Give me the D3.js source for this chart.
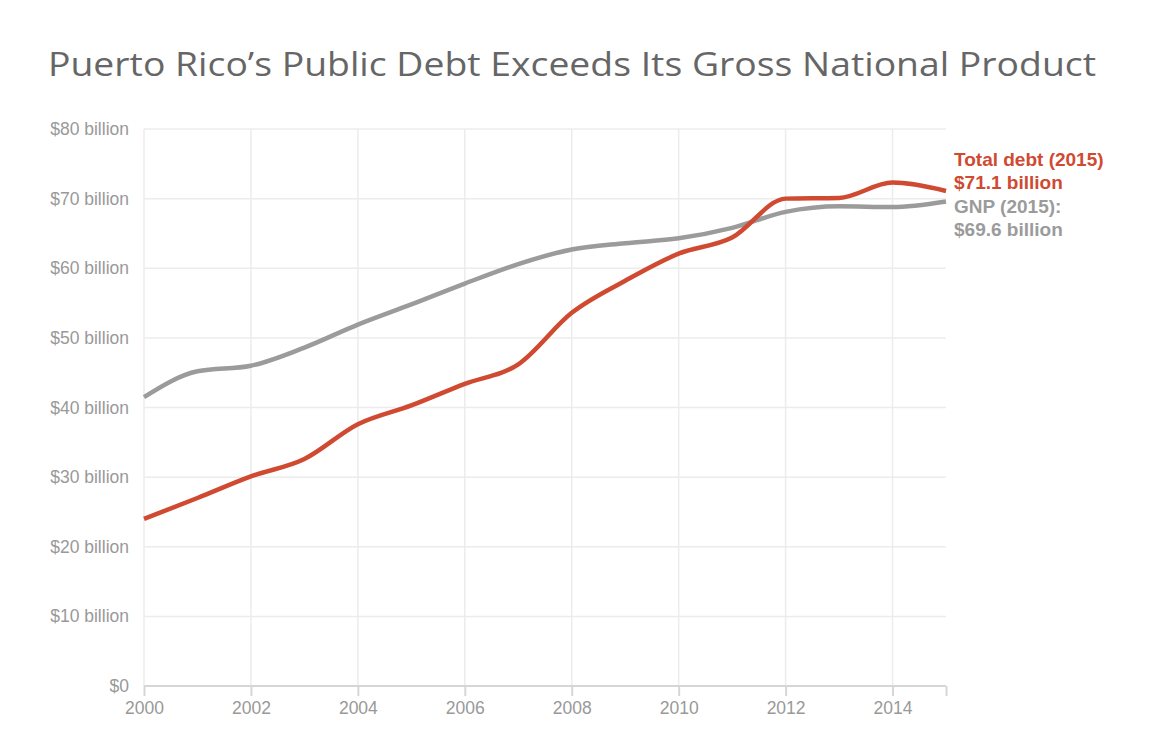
<!DOCTYPE html>
<html><head><meta charset="utf-8">
<script src="https://cdn.jsdelivr.net/npm/d3@7"></script>
<style>body{margin:0;background:#fff}svg{display:block}</style>
</head><body>
<svg id="c" width="1173" height="750"></svg>
<script>
const years = [2000,2001,2002,2003,2004,2005,2006,2007,2008,2009,2010,2011,2012,2013,2014,2015];
const debt = [24.0,27.0,30.1,32.6,37.6,40.3,43.4,46.2,53.6,58.2,62.1,64.4,70.0,70.1,72.3,71.1];
const gnp  = [41.5,45.2,46.0,48.6,51.9,54.8,57.8,60.6,62.7,63.6,64.3,65.8,68.1,68.9,68.8,69.6];
const yTicks = [0,10,20,30,40,50,60,70,80];
const xTicks = [2000,2002,2004,2006,2008,2010,2012,2014];
const title = "Puerto Rico’s Public Debt Exceeds Its Gross National Product";
const debtLabel = ["Total debt (2015)","$71.1 billion"];
const gnpLabel = ["GNP (2015):","$69.6 billion"];

const svg = d3.select("#c");
const m = {left:144, right:946, top:129, bottom:686};
const x = d3.scaleLinear().domain([2000,2015]).range([m.left,m.right]);
const y = d3.scaleLinear().domain([0,80]).range([m.bottom,m.top]);

svg.append("text").attr("x",48).attr("y",76)
  .attr("font-family","'Open Sans', Lato, sans-serif").attr("font-size",32.5)
  .attr("fill","#666").attr("textLength",1048).attr("lengthAdjust","spacingAndGlyphs")
  .text(title);

// grid
svg.append("g").selectAll("line").data(yTicks.filter(d=>d>0)).join("line")
  .attr("x1",m.left).attr("x2",m.right).attr("y1",d=>y(d)).attr("y2",d=>y(d))
  .attr("stroke","#ececec").attr("stroke-width",1.5);
svg.append("g").selectAll("line").data(xTicks).join("line")
  .attr("x1",d=>x(d)).attr("x2",d=>x(d)).attr("y1",m.top).attr("y2",m.bottom)
  .attr("stroke","#ececec").attr("stroke-width",1.5);

// y axis labels
const yAxis = d3.axisLeft(y).tickValues(yTicks).tickSize(0).tickPadding(15)
  .tickFormat(d=> d===0 ? "$0" : "$"+d+" billion");
const gy = svg.append("g").attr("transform",`translate(${m.left},0)`).call(yAxis);
gy.select(".domain").remove();
gy.selectAll("text").attr("font-family","Liberation Sans, Arial, sans-serif")
  .attr("font-size",17.5).attr("fill","#999");

// x axis
const xAxis = d3.axisBottom(x).tickValues(xTicks.concat([2015])).tickSize(10).tickPadding(6)
  .tickFormat(d=> d===2015 ? "" : d);
const gx = svg.append("g").attr("transform",`translate(0,${m.bottom})`).call(xAxis);
gx.select(".domain").attr("stroke","#d6d6d6").attr("stroke-width",2).attr("d",`M${m.left},0H${m.right}`);
gx.selectAll(".tick line").attr("stroke","#d6d6d6").attr("stroke-width",2);
gx.selectAll("text").attr("font-family","Liberation Sans, Arial, sans-serif")
  .attr("font-size",17.5).attr("fill","#999");

const line = d3.line().x((d,i)=>x(years[i])).y(d=>y(d)).curve(d3.curveMonotoneX);
svg.append("path").attr("d",line(gnp)).attr("fill","none").attr("stroke","#9b9b9b").attr("stroke-width",4.5);
svg.append("path").attr("d",line(debt)).attr("fill","none").attr("stroke","#cf4a31").attr("stroke-width",4.5);

const lab = svg.append("g").attr("font-family","Liberation Sans, Arial, sans-serif")
  .attr("font-size",19).attr("font-weight","bold");
lab.selectAll("text.d").data(debtLabel).join("text").attr("class","d")
  .attr("x",954).attr("y",(d,i)=>166+i*23.3).attr("fill","#cf4a31").text(d=>d);
lab.selectAll("text.g").data(gnpLabel).join("text").attr("class","g")
  .attr("x",954).attr("y",(d,i)=>212.6+i*23.3).attr("fill","#9b9b9b").text(d=>d);
</script>
</body></html>
